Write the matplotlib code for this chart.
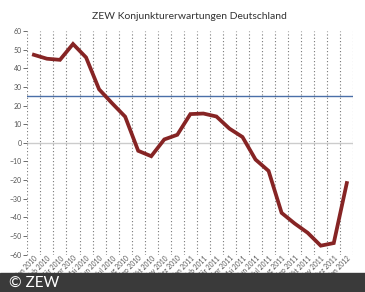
import numpy as np
import matplotlib
matplotlib.use("Agg")
import matplotlib.pyplot as plt

months = ["Jan", "Feb", "Mär", "Apr", "Mai", "Jun", "Jul", "Aug", "Sep", "Okt", "Nov", "Dez"]
labels = [m + " 2010" for m in months] + [m + " 2011" for m in months] + ["Jan 2012"]
values = [47.2, 45.1, 44.5, 53.0, 45.8, 28.7, 21.2, 14.0, -4.3, -7.2, 1.8, 4.3,
          15.4, 15.7, 14.1, 7.6, 3.1, -9.0, -15.1, -37.6, -43.3, -48.3, -55.2, -53.8,
          -21.6]
average = 24.9

plt.rcParams['font.family'] = ['Lato', 'DejaVu Sans']

fig = plt.figure(figsize=(3.65, 2.92), dpi=100)
ax = fig.add_axes([0.075, 0.128, 0.893, 0.766])

x = np.arange(len(values))
for b in np.arange(-0.5, len(values), 1.0):
    ax.axvline(b, color="#777777", lw=0.8, ls=(0, (1, 2)), zorder=1)
ax.axhline(0, color="#cccccc", lw=1.0, zorder=1)
ax.axhline(average, color="#4a6fa8", lw=1.0, zorder=2)
ax.plot(x, values, color="#862424", lw=2.7, solid_joinstyle="miter", zorder=3)

ax.set_xlim(-0.5, len(values) - 0.5)
ax.set_ylim(-60, 60)
ax.set_yticks(range(-60, 61, 10))
ax.set_xticks(x)
ax.set_xticklabels(labels, rotation=45, ha="right", va="top", rotation_mode="anchor")
ax.tick_params(axis="y", labelsize=5, colors="#555555", length=3, width=0.6, pad=1)
ax.tick_params(axis="x", labelsize=4.8, colors="#555555", length=0, pad=0)
for lbl in ax.get_xticklabels():
    lbl.set_x(lbl.get_position()[0])
for s in ax.spines.values():
    s.set_visible(False)

fig.text(0.52, 0.945, "ZEW Konjunkturerwartungen Deutschland", ha="center", va="center",
         fontsize=7.5, color="#333333")

fig.patches.append(plt.Rectangle((0, 0), 1, 19 / 292, transform=fig.transFigure,
                                 color="#3a3a3a", zorder=0))
fig.text(0.025, 9.5 / 292, "© ZEW", ha="left", va="center", fontsize=11, color="white")

fig.savefig("out.png", dpi=100)
